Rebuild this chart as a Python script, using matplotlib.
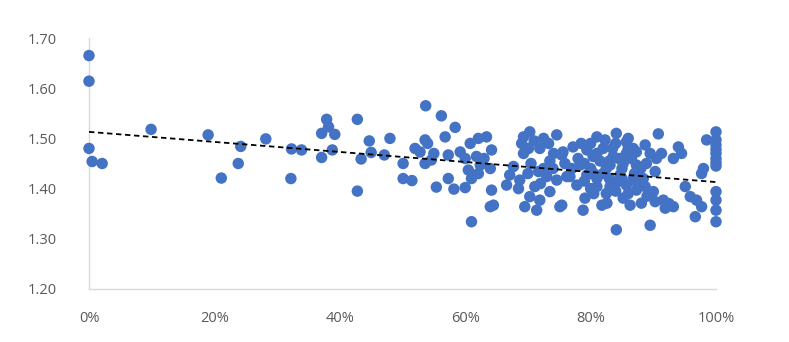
import matplotlib
matplotlib.use("Agg")
import matplotlib.pyplot as plt
from matplotlib.ticker import PercentFormatter, FormatStrFormatter

# Scatter values (x in percent, y as ratio)
# low share, sparse points
share_low = [0, 0, 0, 0.5, 2.1, 9.9, 19.0, 21.1, 24.2, 23.8, 28.2, 32.3, 32.2, 33.9]
ratio_low = [1.665, 1.614, 1.480, 1.454, 1.450, 1.518, 1.507, 1.421, 1.484, 1.450,
             1.499, 1.479, 1.420, 1.477]

# 35% - 50%
share_mid = [37.9, 38.2, 37.1, 39.2, 38.8, 37.1, 42.8, 44.7, 45.0, 43.4, 42.8, 47.1, 48.0]
ratio_mid = [1.538, 1.523, 1.510, 1.508, 1.477, 1.462, 1.538, 1.495, 1.472, 1.459,
             1.395, 1.467, 1.500]

# 50% - 65%
share_upper = [53.7, 56.2, 58.4, 56.8, 53.6, 52.0, 52.8, 50.1, 53.6, 54.6, 57.3, 59.2,
               60.8, 62.1, 63.4, 61.8, 60.5, 62.1, 62.4, 50.1, 51.5, 55.4, 57.3, 58.2,
               60.0, 61.0, 64.0, 64.2, 64.0, 64.2, 64.5, 54.0, 55.0, 60.0, 61.0, 63.0]
ratio_upper = [1.565, 1.545, 1.522, 1.503, 1.497, 1.480, 1.473, 1.450, 1.450, 1.457,
               1.467, 1.473, 1.490, 1.500, 1.503, 1.464, 1.437, 1.430, 1.447, 1.420,
               1.416, 1.403, 1.420, 1.399, 1.402, 1.334, 1.364, 1.477, 1.440, 1.397,
               1.367, 1.490, 1.470, 1.460, 1.420, 1.460]

# 65% - 76%
share_high = [70.3, 69.3, 69.0, 70.1, 69.3, 72.5, 73.3, 74.6, 71.9, 74.1, 75.4, 67.7,
              67.1, 66.6, 68.7, 71.7, 73.0, 74.6, 71.1, 70.3, 71.9, 73.5, 69.5, 71.4,
              75.1, 76.2, 75.9, 70.5, 72.5, 68.5, 72.0, 74.0, 70.0, 71.0, 73.5]
ratio_high = [1.513, 1.503, 1.490, 1.480, 1.470, 1.500, 1.490, 1.507, 1.480, 1.470,
              1.467, 1.444, 1.427, 1.407, 1.417, 1.434, 1.424, 1.417, 1.404, 1.384,
              1.377, 1.394, 1.364, 1.357, 1.364, 1.424, 1.450, 1.450, 1.440, 1.400,
              1.410, 1.440, 1.430, 1.495, 1.455]

# 75% - 88%, the dense cluster
share_dense = [81.0, 84.1, 82.3, 85.7, 77.2, 75.6, 79.4, 80.4, 83.6, 85.7, 87.3, 78.3,
               83.1, 85.2, 87.3, 76.7, 79.4, 82.0, 84.7, 86.8, 77.8, 81.0, 83.1, 85.7,
               87.3, 75.4, 79.1, 78.8, 81.8, 82.6, 85.2, 86.3, 84.1,
               80.0, 82.0, 84.0, 86.0, 81.5, 80.0, 83.0, 85.0, 86.5, 78.0, 79.0, 82.5,
               84.0, 86.0, 80.5, 77.0, 81.0, 84.5, 83.5,
               79.0, 81.0, 83.0, 85.0, 87.0, 80.5, 82.5, 78.5, 86.0, 84.0, 87.5, 80.0]
ratio_dense = [1.503, 1.510, 1.497, 1.493, 1.483, 1.473, 1.477, 1.464, 1.464, 1.470,
               1.473, 1.447, 1.447, 1.450, 1.447, 1.424, 1.427, 1.430, 1.427, 1.420,
               1.407, 1.404, 1.404, 1.407, 1.397, 1.367, 1.381, 1.357, 1.367, 1.371,
               1.381, 1.367, 1.318,
               1.490, 1.480, 1.490, 1.480, 1.455, 1.440, 1.420, 1.440, 1.460, 1.460,
               1.415, 1.390, 1.395, 1.390, 1.390, 1.440, 1.420, 1.460, 1.480,
               1.450, 1.470, 1.455, 1.420, 1.430, 1.430, 1.440, 1.490, 1.500, 1.410,
               1.410, 1.400]

# 86% - 98%
share_top = [90.8, 88.7, 86.8, 91.3, 94.0, 93.2, 94.5, 88.9, 90.3, 88.4, 88.7, 90.0,
             88.1, 90.3, 91.6, 89.5, 91.9, 93.2, 95.1, 95.9, 96.9, 97.7, 96.7, 97.7,
             98.0, 98.5, 89.5, 90.5, 89.0, 92.5, 88.0]
ratio_top = [1.509, 1.487, 1.480, 1.470, 1.483, 1.460, 1.470, 1.450, 1.434, 1.420,
             1.404, 1.394, 1.371, 1.374, 1.377, 1.327, 1.361, 1.364, 1.404, 1.384,
             1.377, 1.364, 1.344, 1.430, 1.440, 1.497, 1.470, 1.460, 1.385,
             1.370, 1.440]

# points sitting at 100%
share_full = [100] * 12
ratio_full = [1.513, 1.497, 1.487, 1.478, 1.470, 1.460, 1.452, 1.445, 1.394, 1.377,
              1.357, 1.334]

# linear trendline end points as drawn in the reference
trend_share = [0, 100]
trend_ratio = [1.513, 1.413]

x_ticks = [0, 20, 40, 60, 80, 100]
y_ticks = [1.20, 1.30, 1.40, 1.50, 1.60, 1.70]

share = share_low + share_mid + share_upper + share_high + share_dense + share_top + share_full
ratio = ratio_low + ratio_mid + ratio_upper + ratio_high + ratio_dense + ratio_top + ratio_full

plt.rcParams['font.family'] = ['Open Sans', 'DejaVu Sans']

fig = plt.figure(figsize=(7.89, 3.42), dpi=100)
ax = fig.add_axes([89 / 789, 1 - 289 / 342, (716 - 89) / 789, (289 - 38) / 342])

ax.scatter(share, ratio, s=68, color='#4472C4', edgecolors='none', zorder=3)
ax.plot(trend_share, trend_ratio, color='black', linewidth=1.3,
        linestyle=(0, (3, 2)), zorder=4)

ax.set_xlim(0, 100)
ax.set_ylim(1.20, 1.70)
ax.set_xticks(x_ticks)
ax.set_yticks(y_ticks)
ax.xaxis.set_major_formatter(PercentFormatter(xmax=100, decimals=0))
ax.yaxis.set_major_formatter(FormatStrFormatter('%.2f'))
ax.tick_params(length=0, labelsize=10.5, labelcolor='#595959')
ax.tick_params(axis='x', pad=16)
ax.tick_params(axis='y', pad=23)

for side in ['top', 'right']:
    ax.spines[side].set_visible(False)
for side in ['left', 'bottom']:
    ax.spines[side].set_color('#d9d9d9')
    ax.spines[side].set_linewidth(1.0)

# markers at 0% and 100% overhang the plot edges, as in the reference
for coll in ax.collections:
    coll.set_clip_on(False)

fig.savefig('out.png', dpi=100)
